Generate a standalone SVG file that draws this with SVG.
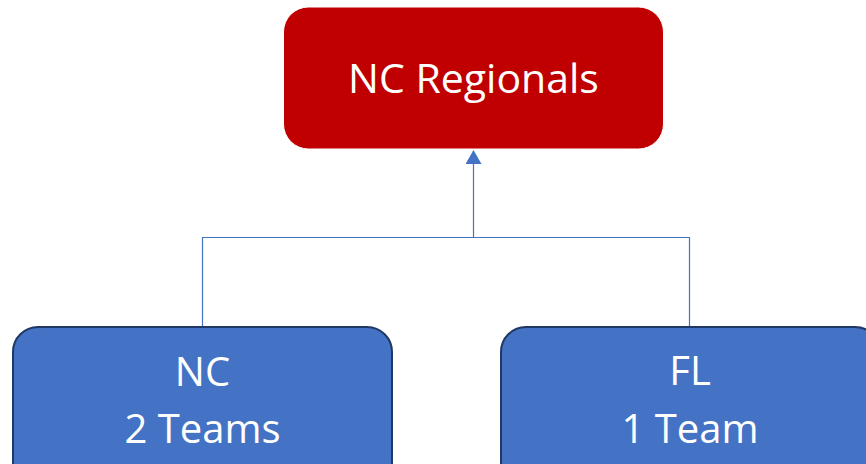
<svg xmlns="http://www.w3.org/2000/svg" width="866" height="464" viewBox="0 0 866 464">
<defs>
<style>
.lbl{font-family:"Open Sans","Noto Sans",sans-serif;fill:#FFFFFF;text-anchor:middle;}
.conn{stroke:#4472C4;stroke-width:1.2;fill:none;}
.child{fill:#4472C4;stroke:#1F3864;stroke-width:2;}
</style>
<marker id="arr" markerWidth="14" markerHeight="16" refX="13" refY="8" orient="auto" markerUnits="userSpaceOnUse" viewBox="0 0 14 16">
<path d="M0,0 L14,8 L0,16 Z" fill="#4472C4"/>
</marker>
</defs>
<rect width="866" height="464" fill="#FFFFFF"/>
<g id="connectors">
<path class="conn" d="M202.5,327 V237.5 H689.5 V327"/>
<path class="conn" d="M473.5,237.5 V151" marker-end="url(#arr)"/>
</g>
<g id="node-regionals">
<rect x="283.5" y="7" width="380" height="142" rx="25" ry="25" fill="#C00000" stroke="#FFFFFF" stroke-width="1"/>
<text class="lbl" x="473.5" y="93" font-size="41">NC Regionals</text>
</g>
<g id="node-nc">
<rect class="child" x="13" y="327" width="379" height="160" rx="25" ry="25"/>
<text class="lbl" x="202.5" y="386" font-size="40">NC</text>
<text class="lbl" x="202.5" y="443" font-size="40">2 Teams</text>
</g>
<g id="node-fl">
<rect class="child" x="501" y="327" width="379" height="160" rx="25" ry="25"/>
<text class="lbl" x="690" y="385" font-size="40">FL</text>
<text class="lbl" x="690" y="443" font-size="40">1 Team</text>
</g>
</svg>
